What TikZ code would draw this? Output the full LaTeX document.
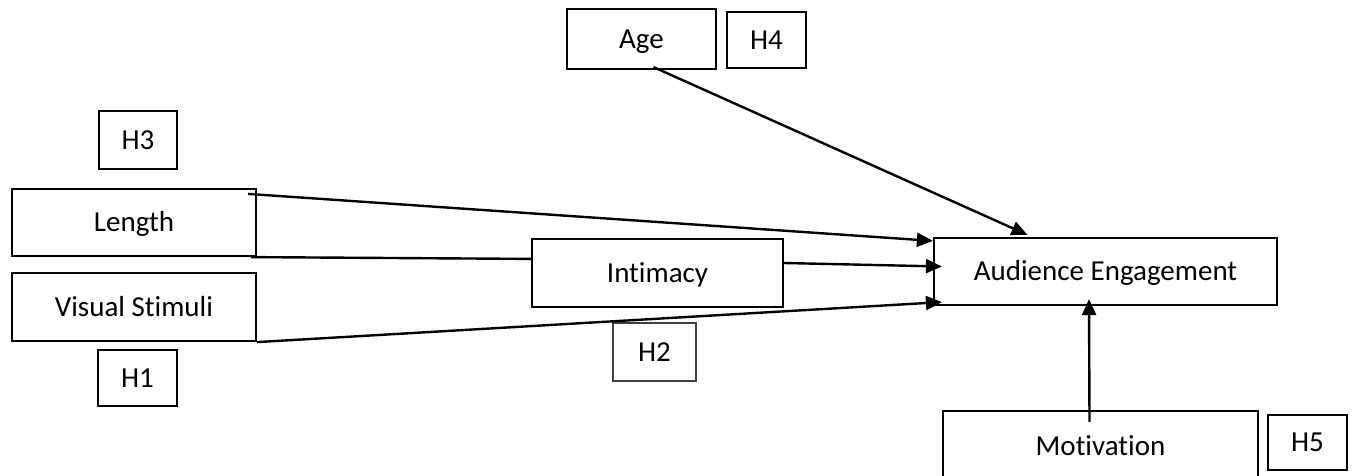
\documentclass[tikz,border=0pt]{standalone}
\usepackage{fontspec}
\setmainfont{Carlito}[Ligatures=NoCommon]
\usepackage{tikz}
\usetikzlibrary{arrows.meta}
\usetikzlibrary{positioning}
\tikzset{
    varbox/.style={
      rectangle,
      draw=black, line width=2.2pt,
      inner sep=0pt,
      text height=18.7pt, text depth=0pt,
      text centered,
      font=\fontsize{29}{35}\selectfont,
    },
    hyp/.style={
      varbox,
      minimum width=79pt,
      minimum height=57pt,
    },
}

\begin{document}
\begin{tikzpicture}[x=1pt,y=-1pt,->,>={Triangle[length=16pt,width=14pt]},line width=2.4pt]

    \useasboundingbox (0,0) rectangle (1357,476);

    % variables
    \node[varbox, minimum width=149pt, minimum height=60pt] (Age) at (641.5,39) {Age};
    \node[varbox, minimum width=244pt, minimum height=67pt] (Length) at (134,222.5) {Length};
    \node[varbox, minimum width=244pt, minimum height=68pt] (Visual) at (134,307) {Visual Stimuli};
    \node[varbox, minimum width=251pt, minimum height=68pt] (Intimacy) at (657.5,273) {Intimacy};
    \node[varbox, minimum width=343pt, minimum height=67pt] (AE) at (1105.5,271.5) {Audience Engagement};
    \node[varbox, minimum width=315pt, minimum height=70pt] (Motivation) at (1100.5,446) {Motivation};

    % hypotheses
    \node[hyp, minimum height=56pt] (H4) at (766.5,40) {H4};
    \node[hyp, minimum width=78pt, minimum height=58pt] (H3) at (138,140) {H3};
    \node[hyp, minimum height=56pt] (H1) at (137.5,378) {H1};
    \node[hyp, draw=black!75, line width=1.2pt, minimum width=83pt, minimum height=58pt] (H2) at (654.5,352) {H2};
    \node[hyp, minimum height=55pt] (H5) at (1307.5,442.5) {H5};

    \path

    ([xshift=12pt,yshift=3pt]Age.south) edge ([xshift=-78pt,yshift=2pt]AE.north)

    ([xshift=-9pt,yshift=-6pt]Length.north east) edge ([yshift=-4pt]AE.north west)

    ([xshift=-6pt]Length.south east) edge[-] ([yshift=-21pt]Intimacy.north west)

    ([yshift=10pt]Intimacy.east) edge ([xshift=9pt,yshift=5pt]AE.west)

    (Visual.south east) edge ([xshift=9pt,yshift=4pt]AE.south west)

    ([xshift=-11pt,yshift=-12pt]Motivation.north) edge ([xshift=-16.5pt,yshift=7pt]AE.south)

    ;
  \end{tikzpicture}
\end{document}
